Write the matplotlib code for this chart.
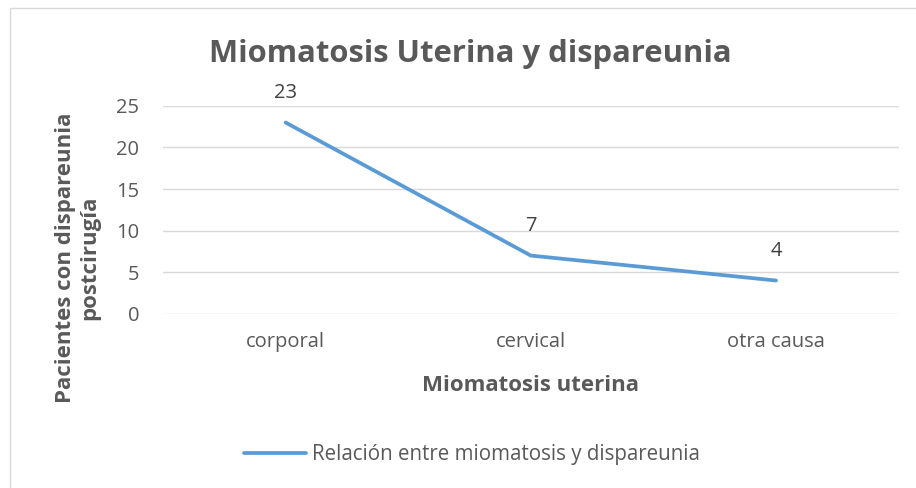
import matplotlib.pyplot as plt
from matplotlib.patches import Rectangle

# datos
categorias = ['corporal', 'cervical', 'otra causa']
pacientes = [23, 7, 4]
yticks = [0, 5, 10, 15, 20, 25]

gris = '#595959'
azul = '#5B9BD5'
plt.rcParams['font.family'] = ['Open Sans', 'DejaVu Sans']

fig = plt.figure(figsize=(9.16, 4.88), dpi=100)
ax = fig.add_axes([0.178, 0.357, 0.803, 0.426])

x = list(range(len(categorias)))
ax.plot(x, pacientes, color=azul, linewidth=2.7, solid_capstyle='round',
        label='Relación entre miomatosis y dispareunia')
for xi, v in zip(x, pacientes):
    ax.annotate(str(v), (xi, v), xytext=(0, 20), textcoords='offset pixels',
                ha='center', va='bottom', fontsize=14.5, color='#404040')

ax.set_xlim(-0.5, len(categorias) - 0.5)
ax.set_ylim(0, 25)
ax.set_yticks(yticks)
ax.set_xticks(x)
ax.set_xticklabels(categorias)
ax.grid(axis='y', color='#D9D9D9', linewidth=1)
ax.set_axisbelow(True)
for s in ax.spines.values():
    s.set_visible(False)
ax.tick_params(length=0, labelsize=14.5, colors=gris)
ax.tick_params(axis='y', pad=17)
ax.tick_params(axis='x', pad=13)

ax.set_xlabel('Miomatosis uterina', fontsize=16, fontweight='bold', color=gris)
ax.xaxis.set_label_coords(0.5, -0.296)
ax.set_ylabel('Pacientes con dispareunia\npostcirugía', fontsize=16, fontweight='bold',
              color=gris, linespacing=1.25)
ax.yaxis.set_label_coords(-0.085, 0.27)

fig.text(0.513, 0.889, 'Miomatosis Uterina y dispareunia', ha='center', va='center',
         fontsize=22.3, fontweight='bold', color=gris)

fig.legend(loc='center', bbox_to_anchor=(0.515, 0.068), frameon=False, fontsize=14.8,
           labelcolor=gris, handlelength=3.0, handletextpad=0.3)

fig.patches.append(Rectangle((10 / 916, -0.1), 1.0, 1 - 8 / 488 + 0.1,
                             transform=fig.transFigure, fill=False,
                             edgecolor='#D9D9D9', linewidth=1))

plt.savefig('out.png', dpi=100)
